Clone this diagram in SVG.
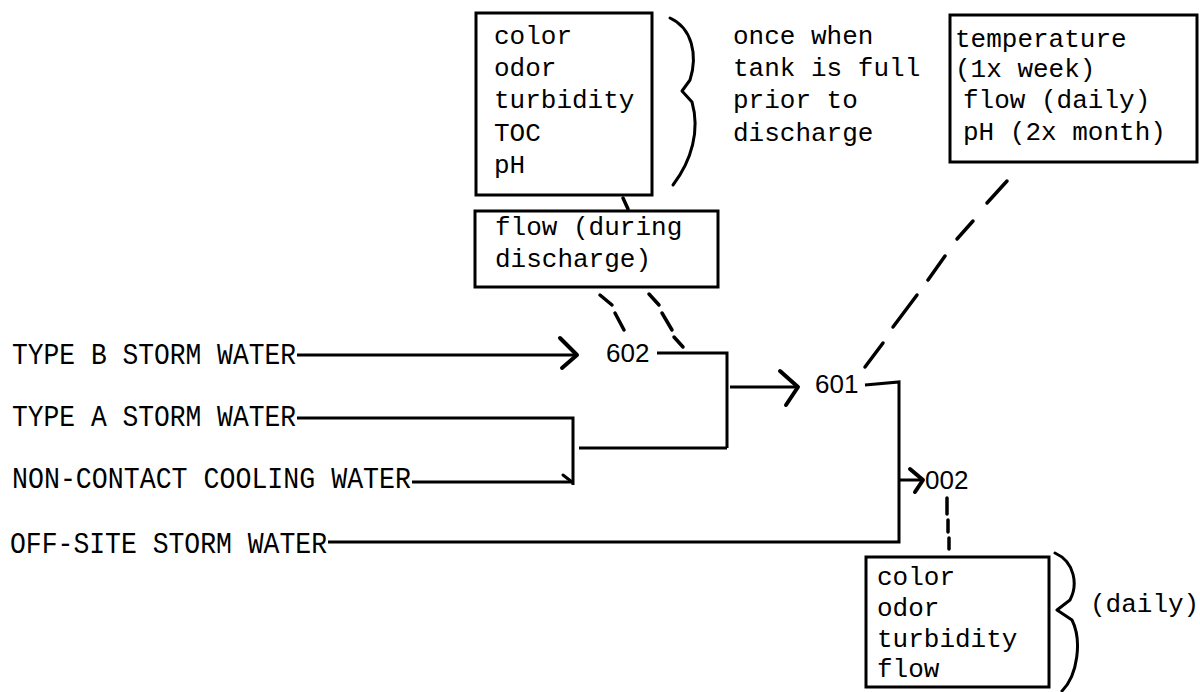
<svg xmlns="http://www.w3.org/2000/svg" width="1200" height="692" viewBox="0 0 1200 692">
<style>
.t{font-family:"Liberation Mono","DejaVu Sans Mono",monospace;font-size:26px;fill:#000}
.s{font-family:"Liberation Mono","DejaVu Sans Mono",monospace;font-size:29px;fill:#000}
.n{font-family:"Liberation Sans","DejaVu Sans",sans-serif;font-size:26px;fill:#000}
.box{fill:none;stroke:#000;stroke-width:3}
.ln{fill:none;stroke:#000;stroke-width:3;stroke-linejoin:miter}
.ah{fill:none;stroke:#000;stroke-width:4;stroke-linecap:round;stroke-linejoin:round}
.d{fill:none;stroke:#000;stroke-width:3.5;stroke-linecap:round}
.br{fill:none;stroke:#000;stroke-width:3;stroke-linecap:round;stroke-linejoin:round}
</style>
<rect width="1200" height="692" fill="#fff"/>

<g id="src-typeB"><text class="s" x="12" y="364" textLength="284" lengthAdjust="spacingAndGlyphs">TYPE B STORM WATER</text></g>
<g id="src-typeA"><text class="s" x="12" y="426" textLength="284" lengthAdjust="spacingAndGlyphs">TYPE A STORM WATER</text></g>
<g id="src-ncc"><text class="s" x="12" y="488" textLength="399" lengthAdjust="spacingAndGlyphs">NON-CONTACT COOLING WATER</text></g>
<g id="src-offsite"><text class="s" x="10" y="553" textLength="317" lengthAdjust="spacingAndGlyphs">OFF-SITE STORM WATER</text></g>

<g id="node-602"><text class="n" x="606" y="362">602</text></g>
<g id="node-601"><text class="n" x="815" y="393">601</text></g>
<g id="node-002"><text class="n" x="925" y="489">002</text></g>

<g id="box-602-params">
<rect class="box" x="476" y="13" width="176" height="182"/>
<text class="t" x="494" y="44">color</text>
<text class="t" x="494" y="76">odor</text>
<text class="t" x="494" y="108">turbidity</text>
<text class="t" x="494" y="141">TOC</text>
<text class="t" x="494" y="173">pH</text>
<path class="br" d="M670,18 C692,28 698,55 690,80 L682,91 L692,102 C700,130 692,160 673,185"/>
<text class="t" x="733" y="44">once when</text>
<text class="t" x="733" y="76">tank is full</text>
<text class="t" x="733" y="108">prior to</text>
<text class="t" x="733" y="141">discharge</text>
</g>

<g id="box-602-flow">
<rect class="box" x="475" y="211" width="243" height="76"/>
<text class="t" x="495" y="235">flow (during</text>
<text class="t" x="495" y="267">discharge)</text>
</g>

<g id="box-601-params">
<rect class="box" x="950" y="15" width="247" height="147"/>
<text class="t" x="955" y="47">temperature</text>
<text class="t" x="955" y="77">(1x week)</text>
<text class="t" x="963" y="108">flow (daily)</text>
<text class="t" x="963" y="140">pH (2x month)</text>
</g>

<g id="box-002-params">
<rect class="box" x="866" y="557" width="183" height="130"/>
<text class="t" x="877" y="585">color</text>
<text class="t" x="877" y="616">odor</text>
<text class="t" x="877" y="647">turbidity</text>
<text class="t" x="877" y="677">flow</text>
<path class="br" d="M1055,553 C1075,562 1078,585 1070,600 L1057,610 L1072,620 C1082,640 1078,675 1062,691"/>
<text class="t" x="1090" y="612">(daily)</text>
</g>

<g id="connectors">
<path class="ln" d="M297,355 H576"/>
<polyline class="ah" points="560,338 577,355 562,368"/>
<path class="ln" d="M657,353 H727 V448 M579,448 H727"/>
<path class="ln" d="M297,418 H573 V485"/>
<path class="ln" d="M412,482 H573"/>
<polyline class="br" points="563,475 572,482"/>
<path class="ln" d="M730,387 H797"/>
<polyline class="ah" points="780,371 798,387 786,405"/>
<path class="ln" d="M865,385 L899,382 V542 H328"/>
<path class="ln" d="M899,480 H922"/>
<polyline class="ah" points="910,469 923,480 915,492"/>
<line class="d" x1="623" y1="198" x2="628" y2="209"/>
<line class="d" x1="600" y1="295" x2="612" y2="305"/>
<line class="d" x1="615" y1="313" x2="624" y2="330"/>
<line class="d" x1="649" y1="294" x2="659" y2="305"/>
<line class="d" x1="662" y1="313" x2="672" y2="330"/>
<line class="d" x1="674" y1="337" x2="683" y2="347"/>
<line class="d" x1="1007" y1="181" x2="987" y2="203"/>
<line class="d" x1="973" y1="221" x2="957" y2="239"/>
<line class="d" x1="945" y1="256" x2="928" y2="280"/>
<line class="d" x1="917" y1="295" x2="893" y2="327"/>
<line class="d" x1="883" y1="343" x2="865" y2="367"/>
<line class="d" x1="947" y1="498" x2="947" y2="514"/>
<line class="d" x1="948" y1="520" x2="948" y2="532"/>
<line class="d" x1="949" y1="538" x2="949" y2="549"/>
</g>
</svg>
